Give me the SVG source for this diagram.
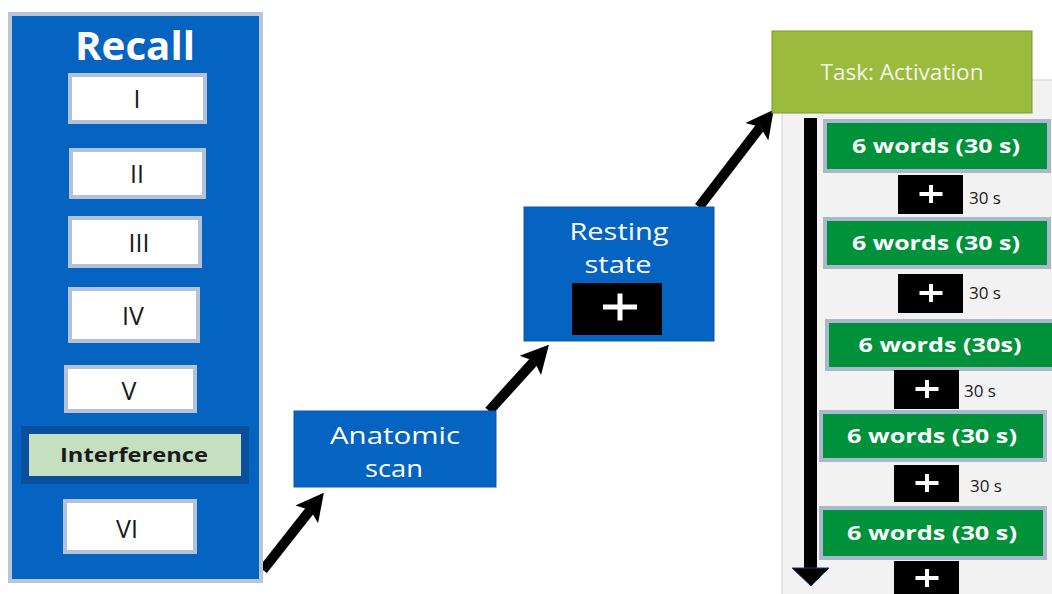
<svg xmlns="http://www.w3.org/2000/svg" width="1052" height="594" viewBox="0 0 1052 594">
<style>
  .panel{fill:#0563c1;stroke:#b8c7d6;stroke-width:4}
  .roman{fill:#ffffff;stroke:#b4c2d3;stroke-width:4}
  .rtxt{font-family:"Open Sans","Liberation Sans",sans-serif;font-size:25px;fill:#1a1a1a;text-anchor:middle}
  .blue{fill:#0563c1;stroke:#1656a3;stroke-width:1}
  .wtxt{font-family:"Open Sans","Liberation Sans",sans-serif;font-size:24px;fill:#ffffff;text-anchor:middle}
  .green{fill:#00923a;stroke:#aab8cb;stroke-width:4}
  .gtxt{font-family:"Open Sans","Liberation Sans",sans-serif;font-weight:bold;font-size:20px;fill:#ffffff;text-anchor:middle}
  .fix{fill:#000000}
  .plus{stroke:#ffffff;stroke-width:4}
  .sec{font-family:"Open Sans","Liberation Sans",sans-serif;font-size:17px;fill:#1a1a1a}
  .conn{stroke:#000000;stroke-width:10;fill:none}
</style>
<defs>
  <marker id="head" markerUnits="userSpaceOnUse" markerWidth="30" markerHeight="30" viewBox="0 -13 25 26" refX="5" refY="0" orient="auto">
    <path d="M0,-12.5 L24,0 L0,12.5 L5,0 Z" fill="#000000"/>
  </marker>
</defs>

<rect x="782" y="80" width="272" height="516" fill="#f2f2f2" stroke="#e0e0e0" stroke-width="1.5"/>

<g id="connectors">
  <line class="conn" x1="263" y1="570" x2="310.3" y2="509.9" marker-end="url(#head)"/>
  <line class="conn" x1="489" y1="411" x2="534.2" y2="361.1" marker-end="url(#head)"/>
  <line class="conn" x1="699" y1="207" x2="760.4" y2="127.1" marker-end="url(#head)"/>
  <line x1="810.5" y1="118" x2="810.5" y2="571" stroke="#000000" stroke-width="13"/>
  <polygon points="792,568 829,568 811,586" fill="#000000" stroke="#1a3f7a" stroke-width="1"/>
</g>

<g id="recall">
  <rect class="panel" x="10" y="14" width="251" height="567"/>
  <text x="135" y="60" font-family="Open Sans, Liberation Sans, sans-serif" font-weight="bold" font-size="40" fill="#ffffff" text-anchor="middle" textLength="120" lengthAdjust="spacingAndGlyphs">Recall</text>
</g>
<g id="r1"><rect class="roman" x="70" y="75" width="135" height="47"/><text class="rtxt" x="137" y="108">I</text></g>
<g id="r2"><rect class="roman" x="71" y="150" width="133" height="47"/><text class="rtxt" x="137" y="183">II</text></g>
<g id="r3"><rect class="roman" x="70" y="218" width="130" height="48"/><text class="rtxt" x="139" y="252">III</text></g>
<g id="r4"><rect class="roman" x="70" y="289" width="128" height="52"/><text class="rtxt" x="133" y="325" font-size="27">IV</text></g>
<g id="r5"><rect class="roman" x="66" y="367" width="129" height="44"/><text class="rtxt" x="129" y="400">V</text></g>
<g id="interference">
  <rect x="25" y="430" width="220" height="50" fill="#c5e0c0" stroke="#0a4f9c" stroke-width="8"/>
  <text x="134" y="462" font-family="Open Sans, Liberation Sans, sans-serif" font-weight="bold" font-size="20" fill="#1a1a1a" text-anchor="middle" textLength="148" lengthAdjust="spacingAndGlyphs">Interference</text>
</g>
<g id="r6"><rect class="roman" x="65" y="501" width="130" height="51"/><text class="rtxt" x="127" y="538" font-size="28">VI</text></g>

<g id="anatomic">
  <rect class="blue" x="294" y="411" width="202" height="76"/>
  <text class="wtxt" x="395" y="444" textLength="130" lengthAdjust="spacingAndGlyphs">Anatomic</text>
  <text class="wtxt" x="394" y="477" textLength="58" lengthAdjust="spacingAndGlyphs">scan</text>
</g>

<g id="resting">
  <rect class="blue" x="524" y="207" width="190" height="134"/>
  <text class="wtxt" x="619" y="240" textLength="99" lengthAdjust="spacingAndGlyphs">Resting</text>
  <text class="wtxt" x="618" y="273" textLength="67" lengthAdjust="spacingAndGlyphs">state</text>
  <rect class="fix" x="572" y="283" width="90" height="52"/>
  <path d="M603,307 H637 M620,293.5 V320.5" stroke="#ffffff" stroke-width="5"/>
</g>

<g id="task">
  <rect x="772" y="31" width="260" height="82" fill="#9bbb3e" stroke="#7a9a30" stroke-width="1"/>
  <text x="902" y="80" font-family="Open Sans, Liberation Sans, sans-serif" font-size="22" fill="#f2f5e6" text-anchor="middle" textLength="163" lengthAdjust="spacingAndGlyphs">Task: Activation</text>
</g>

<g id="block1">
  <rect class="green" x="825" y="121" width="224" height="50"/>
  <text class="gtxt" x="936" y="153" textLength="168" lengthAdjust="spacingAndGlyphs">6 words (30 s)</text>
</g>
<g id="fix1">
  <rect class="fix" x="898" y="175" width="65" height="39"/>
  <path class="plus" d="M919.5,194 H942.5 M931,185 V203"/>
  <text class="sec" x="969" y="204">30 s</text>
</g>
<g id="block2">
  <rect class="green" x="825" y="219" width="224" height="48"/>
  <text class="gtxt" x="936" y="250" textLength="168" lengthAdjust="spacingAndGlyphs">6 words (30 s)</text>
</g>
<g id="fix2">
  <rect class="fix" x="898" y="274" width="65" height="39"/>
  <path class="plus" d="M919.5,293 H942.5 M931,284 V302"/>
  <text class="sec" x="969" y="299">30 s</text>
</g>
<g id="block3">
  <rect class="green" x="827" y="321" width="228" height="48"/>
  <text class="gtxt" x="940" y="352" textLength="163" lengthAdjust="spacingAndGlyphs">6 words (30s)</text>
</g>
<g id="fix3">
  <rect class="fix" x="894" y="370" width="65" height="39"/>
  <path class="plus" d="M915.5,389 H938.5 M927,380 V398"/>
  <text class="sec" x="964" y="397">30 s</text>
</g>
<g id="block4">
  <rect class="green" x="821" y="412" width="224" height="48"/>
  <text class="gtxt" x="932" y="443" textLength="170" lengthAdjust="spacingAndGlyphs">6 words (30 s)</text>
</g>
<g id="fix4">
  <rect class="fix" x="894" y="465" width="65" height="37"/>
  <path class="plus" d="M915.5,483 H938.5 M927,474 V492"/>
  <text class="sec" x="970" y="492">30 s</text>
</g>
<g id="block5">
  <rect class="green" x="821" y="508" width="224" height="50"/>
  <text class="gtxt" x="932" y="540" textLength="170" lengthAdjust="spacingAndGlyphs">6 words (30 s)</text>
</g>
<g id="fix5">
  <rect class="fix" x="894" y="561" width="65" height="40"/>
  <path class="plus" d="M915.5,578 H938.5 M927,569 V587"/>
</g>
</svg>
